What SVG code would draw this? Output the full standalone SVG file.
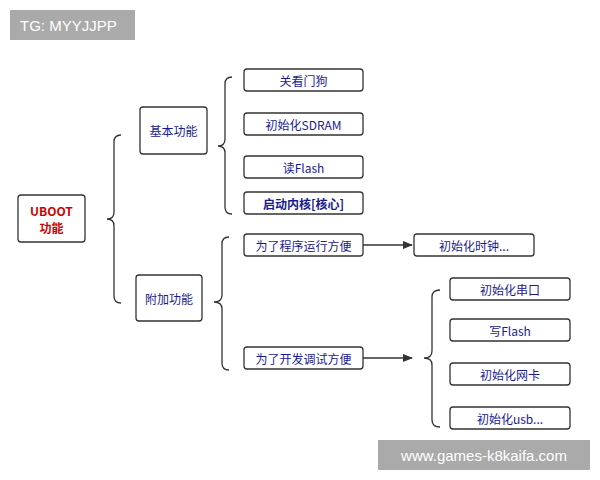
<svg xmlns="http://www.w3.org/2000/svg" width="600" height="480" viewBox="0 0 600 480">
<defs>
<style>
.b{fill:#fff;stroke:#333;stroke-width:1.3}
.t{font-family:"Noto Sans CJK SC",sans-serif;font-size:12px;fill:#1a1a8c;text-anchor:middle;dominant-baseline:central}
.c{fill:none;stroke:#333;stroke-width:1.3}
</style>
<marker id="a" markerWidth="10" markerHeight="8" refX="9" refY="4" orient="auto" markerUnits="userSpaceOnUse"><path d="M0,0L10,4L0,8z" fill="#333"/></marker>
</defs>
<rect width="600" height="480" fill="#fff"/>
<rect x="10" y="10" width="125" height="30" fill="#aaa"/>
<text x="20" y="25" font-family="Liberation Sans,sans-serif" font-size="15" fill="#fff" dominant-baseline="central">TG: MYYJJPP</text>
<g id="connectors">
<path class="c" d="M121,135 Q114,135 114,142 V212 Q114,219 107,219 Q114,219 114,226 V296 Q114,303 121,303"/>
<path class="c" d="M232,77 Q225,77 225,84 V139 Q225,146 218,146 Q225,146 225,153 V207 Q225,214 232,214"/>
<path class="c" d="M229,237 Q222,237 222,244 V295 Q222,302 214,302 Q222,302 222,309 V363 Q222,370 229,370"/>
<path class="c" d="M440,290 Q432,290 432,297 V351 Q432,358 424,358 Q432,358 432,365 V420 Q432,427 440,427"/>
<line class="c" x1="363" y1="245" x2="412" y2="245" marker-end="url(#a)"/>
<line class="c" x1="363" y1="358" x2="412" y2="358" marker-end="url(#a)"/>
</g>
<g id="uboot"><rect class="b" x="18" y="195" width="67" height="47" rx="3"/><text class="t" x="51.5" y="210" style="fill:#c00;font-weight:bold">UBOOT</text><text class="t" x="51.5" y="227" style="fill:#c00;font-weight:bold">功能</text></g>
<g id="basic"><rect class="b" x="140" y="107" width="67" height="47" rx="3"/><text class="t" x="173.5" y="130.5">基本功能</text></g>
<g id="extra"><rect class="b" x="136" y="275" width="66" height="46" rx="3"/><text class="t" x="169" y="298">附加功能</text></g>
<g id="n1"><rect class="b" x="244" y="69" width="119" height="22" rx="3"/><text class="t" x="303.5" y="80">关看门狗</text></g>
<g id="n2"><rect class="b" x="244" y="113" width="119" height="22" rx="3"/><text class="t" x="303.5" y="124">初始化SDRAM</text></g>
<g id="n3"><rect class="b" x="244" y="156" width="119" height="22" rx="3"/><text class="t" x="303.5" y="167">读Flash</text></g>
<g id="n4"><rect class="b" x="244" y="192" width="119" height="22" rx="3"/><text class="t" x="303.5" y="203" style="font-weight:bold">启动内核[核心]</text></g>
<g id="n5"><rect class="b" x="244" y="234" width="119" height="22" rx="3"/><text class="t" x="303.5" y="245">为了程序运行方便</text></g>
<g id="n6"><rect class="b" x="244" y="347" width="119" height="22" rx="3"/><text class="t" x="303.5" y="358">为了开发调试方便</text></g>
<g id="n7"><rect class="b" x="414" y="234" width="120" height="22" rx="3"/><text class="t" x="474" y="245">初始化时钟...</text></g>
<g id="n8"><rect class="b" x="450" y="278" width="120" height="22" rx="3"/><text class="t" x="510" y="289">初始化串口</text></g>
<g id="n9"><rect class="b" x="450" y="319" width="120" height="22" rx="3"/><text class="t" x="510" y="330">写Flash</text></g>
<g id="n10"><rect class="b" x="450" y="363" width="120" height="22" rx="3"/><text class="t" x="510" y="374">初始化网卡</text></g>
<g id="n11"><rect class="b" x="450" y="407" width="120" height="22" rx="3"/><text class="t" x="510" y="418">初始化usb...</text></g>
<rect x="378" y="440" width="212" height="30" fill="#aaa"/>
<text x="484" y="455" font-family="Liberation Sans,sans-serif" font-size="15" fill="#fff" text-anchor="middle" dominant-baseline="central">www.games-k8kaifa.com</text>
</svg>
